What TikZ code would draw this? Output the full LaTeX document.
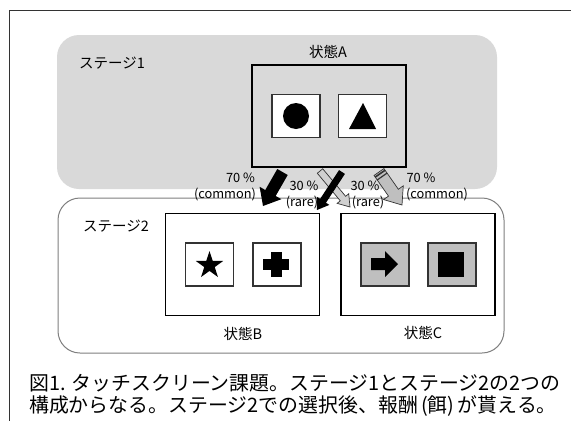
\documentclass[tikz,border=0pt]{standalone}
\usepackage{fontspec}
\setmainfont{Noto Sans CJK JP}
\usetikzlibrary{calc}
\definecolor{stagegray}{HTML}{D9D9D9}
\definecolor{boxgray}{HTML}{BFBFBF}
\definecolor{raregray}{HTML}{D0D0D0}
\definecolor{edgegray}{HTML}{7F7F7F}
\definecolor{darkline}{HTML}{333333}
\newcommand{\blockarrow}[6]{%
  \coordinate (ba) at ($(#3)!#6!(#2)$);
  \draw[#1] ($(#2)!#4!90:(#3)$) -- ($(ba)!#4!90:(#3)$) -- ($(ba)!#5!90:(#3)$) -- (#3)
    -- ($(ba)!#5!-90:(#3)$) -- ($(ba)!#4!-90:(#3)$) -- ($(#2)!#4!-90:(#3)$) -- cycle;}
\tikzset{
  frame/.style={draw=darkline, line width=0.8pt},
  stageone/.style={fill=stagegray, draw=none, rounded corners=22pt, inner sep=0},
  stagetwo/.style={fill=white, draw=edgegray, line width=1pt, rounded corners=22pt, inner sep=0},
  statebox/.style={draw=black, line width=1.8pt, fill=white, inner sep=0, minimum width=154pt, minimum height=102pt},
  statebox1/.style={draw=black, line width=1.8pt, fill=none, inner sep=0, minimum width=154pt, minimum height=102pt},
  iconbox/.style={draw=darkline, line width=1.1pt, fill=white, inner sep=0, minimum width=48pt, minimum height=43pt},
  iconboxg/.style={iconbox, fill=boxgray},
  title/.style={font=\fontsize{14.5}{16}\selectfont, inner sep=0},
  plbl/.style={font=\fontsize{12.8}{14}\selectfont, inner sep=0},
  captext/.style={font=\fontsize{19.9}{22}\selectfont, inner sep=0, anchor=base west},
  blackarrow/.style={fill=black, draw=none},
  rarearrow/.style={fill=raregray, draw=darkline, line width=0.7pt},
  commonarrow/.style={fill=boxgray, draw=darkline, line width=0.7pt}
}
\begin{document}
\begin{tikzpicture}[x=1pt,y=-1pt]
\useasboundingbox (0,0) rectangle (571,421);
\draw[frame] (571,10) -- (9,10) -- (9,421);
% stages
\node[stageone, minimum width=440pt, minimum height=154pt] (s1) at (277,112) {};
\node[stagetwo, minimum width=446pt, minimum height=155pt] (s2) at (281,275.5) {};
\node[title] (st1) at (112,63) {ステージ1};
\node[title] (st2) at (116,226) {ステージ2};
% state A
\node[statebox1] (A) at (329,116) {};
\node[title] (tA) at (328,52) {状態A};
\node[iconbox] (ia1) at (296,116) {};
\node[iconbox] (ia2) at (362.5,116) {};
\fill (ia1.center) circle[radius=13pt];
\fill (363,103) -- (376,129) -- (349,129) -- cycle;
% state B
\node[statebox] (B) at (242.5,264.5) {};
\node[title] (tB) at (243,334) {状態B};
\node[iconbox] (ib1) at (209.5,264.5) {};
\node[iconbox] (ib2) at (277,264.5) {};
\fill[shift={(209.5,265.4)}] (-90:14.4) -- (-54:5.5) -- (-18:14.4) -- (18:5.5) -- (54:14.4)
  -- (90:5.5) -- (126:14.4) -- (162:5.5) -- (198:14.4) -- (234:5.5) -- cycle;
\fill (263,259) rectangle (289,270);
\fill (270.5,252) rectangle (281.5,277);
% state C
\node[statebox] (C) at (418,264.5) {};
\node[title] (tC) at (423,333) {状態C};
\node[iconboxg] (ic1) at (385,264.5) {};
\node[iconboxg] (ic2) at (452,264.5) {};
\fill (371,258) -- (385,258) -- (385,251) -- (398,264) -- (385,277) -- (385,270) -- (371,270) -- cycle;
\fill (438,252) rectangle (464,277);
% transition arrows
\coordinate (t1) at (282.5,172);
\coordinate (h1) at (263,206);
\coordinate (t2) at (320,171);
\coordinate (h2) at (350,207);
\coordinate (t3) at (342,172);
\coordinate (h3) at (317,210);
\coordinate (t4) at (379,172);
\coordinate (h4) at (402,205);
\blockarrow{blackarrow}{t1}{h1}{6pt}{12.5pt}{15pt}
\blockarrow{rarearrow}{t2}{h2}{3.5pt}{7.5pt}{11pt}
\blockarrow{blackarrow}{t3}{h3}{3.5pt}{7.5pt}{11pt}
\blockarrow{commonarrow}{t4}{h4}{6pt}{12pt}{15pt}
\draw[darkline, line width=1.6pt] ($($(t4)!2pt!(h4)$)!6pt!90:(h4)$) -- ($($(t4)!2pt!(h4)$)!6pt!-90:(h4)$);
\draw[darkline, line width=1.2pt] ($($(t4)!5.5pt!(h4)$)!6pt!90:(h4)$) -- ($($(t4)!5.5pt!(h4)$)!6pt!-90:(h4)$);
% labels
\node[plbl] (p1) at (240.5,178) {70 \%};
\node[plbl] (c1) at (225,195) {(common)};
\node[plbl] (p2) at (304,186) {30 \%};
\node[plbl] (r2) at (302,203) {(rare)};
\node[plbl] (p3) at (365,186) {30 \%};
\node[plbl] (r3) at (368,203) {(rare)};
\node[plbl] (p4) at (421,178) {70 \%};
\node[plbl] (c4) at (437,195) {(common)};
% caption
\node[captext] (cap1) at (29,390) {図1. タッチスクリーン課題。ステージ1とステージ2の2つの};
\node[captext] (cap2) at (29,412) {構成からなる。ステージ2での選択後、報酬\,(餌)\,が貰える。};
\end{tikzpicture}
\end{document}
